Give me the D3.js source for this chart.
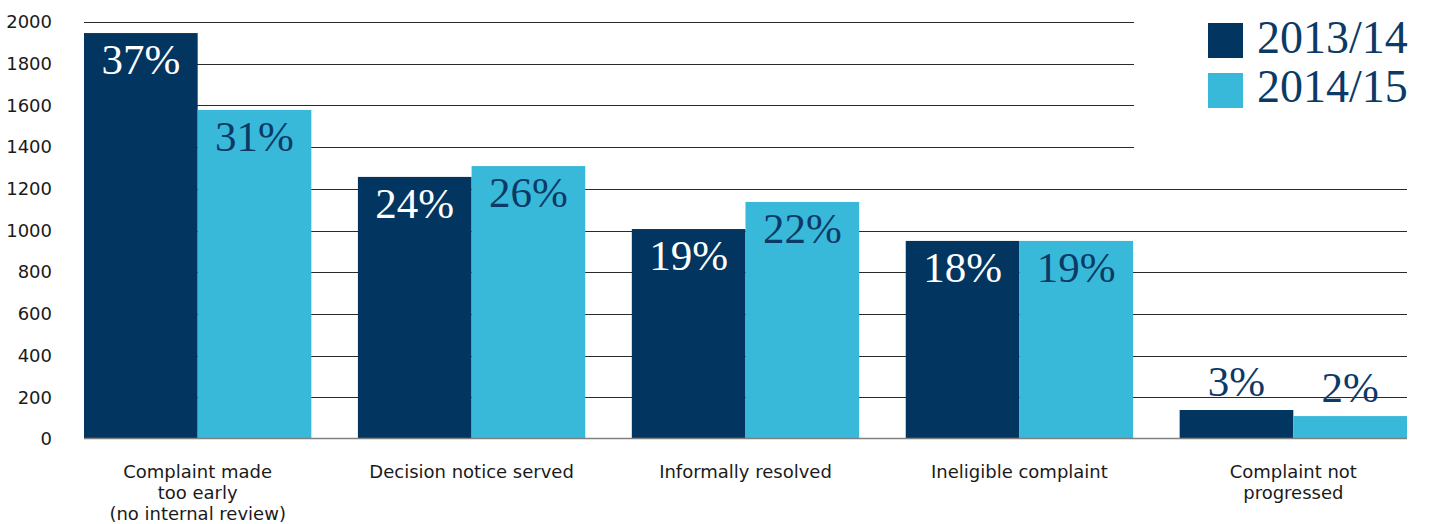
<!DOCTYPE html>
<html>
<head>
<meta charset="utf-8">
<script src="https://cdn.jsdelivr.net/npm/d3@7"></script>
<style>
  html, body { margin: 0; padding: 0; background: #fff; }
  svg { display: block; }
</style>
</head>
<body>
<svg id="chart" width="1429" height="524"></svg>
<script>
// Outcome categories (line breaks mark wrapped labels)
const categories = [
  "Complaint made\ntoo early\n(no internal review)",
  "Decision notice served",
  "Informally resolved",
  "Ineligible complaint",
  "Complaint not\nprogressed"
];
const seriesNames = ["2013/14", "2014/15"];
const values2013 = [1947, 1257, 1007, 950, 139];
const values2014 = [1578, 1309, 1137, 950, 110];
const share2013 = ["37%", "24%", "19%", "18%", "3%"];
const share2014 = ["31%", "26%", "22%", "19%", "2%"];
const yTicks = [0, 200, 400, 600, 800, 1000, 1200, 1400, 1600, 1800, 2000];

const colors = ["#02355F", "#39B9D9"];
const labelColors = ["#ffffff", "#0C3A66"];
const navy = "#0C3A66";

const svg = d3.select("#chart");
const plot = { left: 84, right: 1407, top: 22, bottom: 439 };

const x = d3.scaleBand().domain(d3.range(categories.length))
  .range([plot.left, plot.right]).paddingInner(0.17).paddingOuter(0);
const xs = d3.scaleBand().domain([0, 1]).range([0, x.bandwidth()]);
const y = d3.scaleLinear().domain([0, 2000]).range([plot.bottom, plot.top]);

// Gridlines
svg.append("g").selectAll("line").data(yTicks.filter(d => d > 0)).join("line")
  .attr("x1", plot.left).attr("x2", plot.right)
  .attr("y1", d => Math.round(y(d)) + 0.5).attr("y2", d => Math.round(y(d)) + 0.5)
  .attr("stroke", "#2a2a2a").attr("stroke-width", 1);

// Y axis tick labels
const yAxis = d3.axisLeft(y).tickValues(yTicks).tickSize(0).tickPadding(32).tickFormat(d3.format("d"));
const gy = svg.append("g").attr("transform", `translate(${plot.left},0)`).call(yAxis);
gy.select(".domain").remove();
gy.selectAll("text").attr("font-family", "'DejaVu Sans', Verdana, sans-serif")
  .attr("font-size", 18).attr("fill", "#1a1a1a");

// Bars
const series = [values2013, values2014];
const shares = [share2013, share2014];
const rows = [];
series.forEach((vals, s) => vals.forEach((v, i) => rows.push({ s, i, v, label: shares[s][i] })));

svg.append("g").selectAll("rect").data(rows).join("rect")
  .attr("x", d => x(d.i) + xs(d.s))
  .attr("y", d => y(d.v))
  .attr("width", xs.bandwidth())
  .attr("height", d => y(0) - y(d.v))
  .attr("fill", d => colors[d.s]);

// Zero baseline
svg.append("line").attr("x1", plot.left).attr("x2", plot.right)
  .attr("y1", Math.round(y(0)) - 0.5).attr("y2", Math.round(y(0)) - 0.5)
  .attr("stroke", "#808080").attr("stroke-width", 1.5);

// Percentage labels: inside the bar top, or above short bars
svg.append("g").selectAll("text").data(rows).join("text")
  .attr("x", d => x(d.i) + xs(d.s) + xs.bandwidth() / 2)
  .attr("y", d => {
    const h = y(0) - y(d.v);
    return h > 60 ? y(d.v) + 41 : y(d.v) - 14;
  })
  .attr("text-anchor", "middle")
  .attr("font-family", "'Liberation Serif', 'DejaVu Serif', serif")
  .attr("font-size", 43)
  .attr("fill", d => (y(0) - y(d.v) > 60) ? labelColors[d.s] : navy)
  .text(d => d.label);

// Category labels
const cat = svg.append("g").selectAll("text").data(categories).join("text")
  .attr("x", (d, i) => x(i) + x.bandwidth() / 2)
  .attr("y", 478)
  .attr("text-anchor", "middle")
  .attr("font-family", "'DejaVu Sans', Verdana, sans-serif")
  .attr("font-size", 18).attr("fill", "#1a1a1a");
cat.selectAll("tspan").data(d => d.split("\n")).join("tspan")
  .attr("x", function () { return this.parentNode.getAttribute("x"); })
  .attr("dy", (d, j) => j === 0 ? 0 : 21)
  .text(d => d);

// Legend
const legend = svg.append("g");
legend.append("rect").attr("x", 1134).attr("y", 0).attr("width", 295).attr("height", 168).attr("fill", "#fff");
seriesNames.forEach((name, s) => {
  legend.append("rect").attr("x", 1208).attr("y", 23 + s * 50).attr("width", 35).attr("height", 35).attr("fill", colors[s]);
  legend.append("text").attr("x", 1257).attr("y", 53 + s * 49)
    .attr("font-family", "'Liberation Serif', 'DejaVu Serif', serif")
    .attr("font-size", 46).attr("fill", navy).text(name);
});
</script>
</body>
</html>
